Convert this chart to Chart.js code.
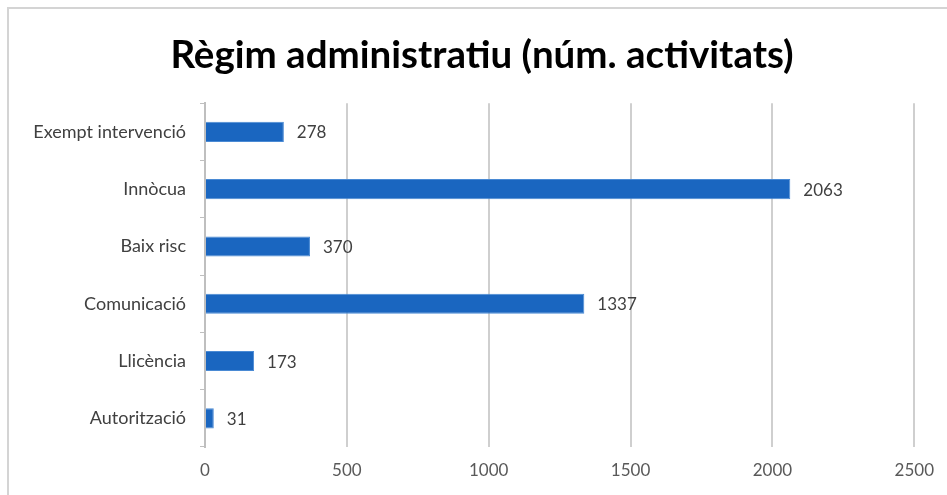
<!DOCTYPE html>
<html>
<head>
<meta charset="utf-8">
<script src="https://cdn.jsdelivr.net/npm/chart.js@4/dist/chart.umd.min.js"></script>
<style>
    body { margin: 0; background: #fff; }
    #wrap { position: relative; width: 947px; height: 495px; overflow: hidden; }
    #frame {
        position: absolute; left: 7px; top: 7px; width: 1000px; height: 600px;
        border-top: 2px solid #d4d4d4; border-left: 2px solid #d4d4d4;
    }
    canvas { position: absolute; left: 0; top: 0; }
</style>
</head>
<body>
<div id="wrap">
    <div id="frame"></div>
    <canvas id="chart" width="947" height="495"></canvas>
</div>
<script>
const titleText = "Règim administratiu (núm. activitats)";
const categories = ["Exempt intervenció", "Innòcua", "Baix risc", "Comunicació", "Llicència", "Autorització"];
const activitats = [278, 2063, 370, 1337, 173, 31];
const axisMax = 2500;
const axisStep = 500;

const FONT = "Lato, 'Open Sans', sans-serif";

// draws the number next to each bar
const valueLabels = {
    id: "valueLabels",
    afterDatasetsDraw(chart) {
        const ctx = chart.ctx;
        const meta = chart.getDatasetMeta(0);
        ctx.save();
        ctx.font = "17px " + FONT;
        ctx.fillStyle = "#404040";
        ctx.textAlign = "left";
        ctx.textBaseline = "middle";
        meta.data.forEach((bar, i) => {
            ctx.fillText(String(activitats[i]), bar.x + 13, bar.y + 1);
        });
        ctx.restore();
    }
};

new Chart(document.getElementById("chart"), {
    type: "bar",
    data: {
        labels: categories,
        datasets: [{
            data: activitats,
            backgroundColor: "#1a66c0",
            borderColor: "#4a8ad4",
            borderWidth: 1,
            categoryPercentage: 1,
            barPercentage: 0.35
        }]
    },
    options: {
        indexAxis: "y",
        responsive: false,
        animation: false,
        // title sits a bit right of the canvas centre in the original
        layout: { padding: { top: 14, right: -17, bottom: 0, left: 0 } },
        plugins: {
            legend: { display: false },
            tooltip: { enabled: false },
            title: {
                display: true,
                text: titleText,
                color: "#000",
                font: { family: FONT, size: 38.5, weight: "bold" },
                padding: { top: 18, bottom: 25 }
            }
        },
        scales: {
            x: {
                min: 0,
                max: axisMax,
                ticks: {
                    stepSize: axisStep,
                    color: "#595959",
                    font: { family: FONT, size: 17 },
                    padding: 13,
                    callback: (v) => String(v)
                },
                grid: { color: "#cfcfcf", lineWidth: 2, drawTicks: false },
                border: { display: false },
                afterFit(scale) { scale.height = 48; }
            },
            y: {
                ticks: {
                    color: "#404040",
                    font: { family: FONT, size: 18 },
                    padding: 14
                },
                grid: { drawOnChartArea: false, color: "#bfbfbf", tickLength: 5 },
                border: { color: "#bfbfbf", width: 2 },
                afterFit(scale) { scale.width = 205; }
            },
            // empty spacer on the right so the plot ends at 2500 where it should
            yRight: {
                type: "category",
                position: "right",
                ticks: { display: false },
                grid: { display: false, drawOnChartArea: false },
                border: { display: false },
                afterFit(scale) { scale.width = 49; }
            }
        }
    },
    plugins: [valueLabels]
});
</script>
</body>
</html>
